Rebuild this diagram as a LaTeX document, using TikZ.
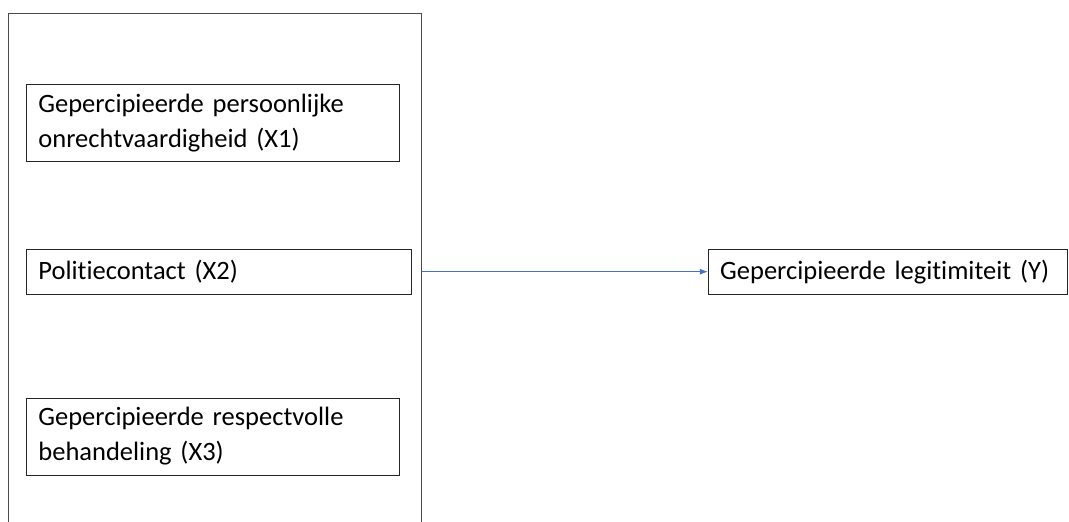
\documentclass[tikz,border=0pt]{standalone}
\usepackage{fontspec}
\setmainfont{Carlito}[Ligatures=NoCommon, WordSpace=0.85]
\usepackage{tikz}
\usetikzlibrary{
	positioning,
	arrows.meta
}

\definecolor{lineblue}{HTML}{4472C4}

\begin{document}
\begin{tikzpicture}[x=1pt,y=-1pt,
		box/.style={draw=black!85, line width=0.8pt, rectangle, anchor=north west,
			align=left, inner xsep=12pt, inner ysep=0pt,
			font=\fontsize{26.5}{35}\selectfont},
		arrow/.style={draw=lineblue, line width=0.8pt, -{Latex[length=8pt,width=6pt]}}
	]
		\useasboundingbox (0,0) rectangle (1069,522);
		\clip (0,0) rectangle (1069,522);

		% outer frame, runs past the bottom edge
		\node[draw=black!70, line width=0.8pt, rectangle, anchor=north west,
			minimum width=413pt, minimum height=540pt, inner sep=0pt] (frame) at (8,13) {};

		\node[box, minimum width=373pt, minimum height=77pt, text width=349pt] (x1) at (26,84)
			{Gepercipieerde persoonlijke\\onrechtvaardigheid (X1)};
		\node[box, minimum width=385pt, minimum height=45pt, text width=361pt,
			below=87pt of x1.south west, anchor=north west] (x2)
			{Politiecontact (X2)};
		\node[box, minimum width=373pt, minimum height=77pt, text width=349pt,
			below=103pt of x2.south west, anchor=north west] (x3)
			{Gepercipieerde respectvolle\\behandeling (X3)};

		\node[box, minimum width=359pt, minimum height=45pt, text width=335pt,
			right=296pt of x2.north east, anchor=north west] (y)
			{Gepercipieerde legitimiteit (Y)};

		\draw[arrow] (y.west -| frame.east) -- (y.west);
	\end{tikzpicture}
\end{document}
